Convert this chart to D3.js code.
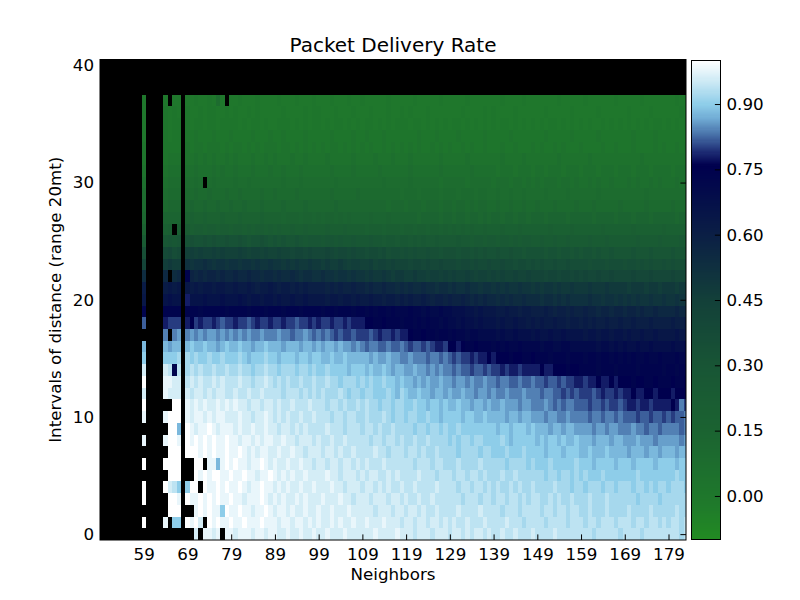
<!DOCTYPE html>
<html>
<head>
<meta charset="utf-8">
<script src="https://cdn.jsdelivr.net/npm/d3@7"></script>
<style>
body { margin: 0; background: #fff; }
text { font-family: "DejaVu Sans", sans-serif; }
</style>
</head>
<body>
<svg id="chart" width="800" height="600"></svg>
<script>
// one char per cell: "0" = -0.10, each step +0.02, "t" = 1.00
// "." = no value (drawn black)
var levelCodes = "0123456789ABCDEFGHIJKLMNOPQRSTUVWXYZabcdefghijklmnopqrst";

var firstNeighbor = 49, lastNeighbor = 183;
var maxInterval = 40;

var xTicks = [59, 69, 79, 89, 99, 109, 119, 129, 139, 149, 159, 169, 179];
var yTicks = [0, 10, 20, 30, 40];
var cbTicks = [0.00, 0.15, 0.30, 0.45, 0.60, 0.75, 0.90];

var cmapStops  = [-0.10, -0.02, 0.15, 0.30, 0.45, 0.60, 0.70, 0.76, 0.79, 0.83, 0.87, 0.90, 0.95, 1.00];
var cmapColors = ["#228b22", "#1f7a2b", "#1b6331", "#185535", "#134039", "#0b1f45", "#030b4b",
                  "#00004e", "#1c2a72", "#4770a8", "#72aed6", "#8ecde9", "#c9e8f4", "#ffffff"];

// rows from interval 40 (top) down to 0, columns neighbors 49..183 in groups of ten
var pdrRows = [
  ".......... .......... .......... .......... .......... .......... .......... .......... .......... .......... .......... .......... .......... .....",
  ".......... .......... .......... .......... .......... .......... .......... .......... .......... .......... .......... .......... .......... .....",
  ".......... .......... .......... .......... .......... .......... .......... .......... .......... .......... .......... .......... .......... .....",
  ".......... 5....5.55. 556556595. 5565556555 5655565556 5556555655 6555556555 5565555565 5555655555 5565555655 5555565555 5655555565 5555655555 55655",
  ".......... 5....6565. 6556566556 5655656555 5565555656 6555655565 5565556556 5655565555 5556555565 6555565555 5565555565 5555655555 5655556555 55565",
  ".......... 5....6566. 6566566566 6656566565 5666565656 6565665656 5665656566 6566565656 5665656565 6566565656 5656656565 6565565656 5656565665 65656",
  ".......... 5....6566. 6676667666 7666676667 6676666766 6667666676 6766676666 6667666766 6676666676 6666766666 6676666676 6666766666 6676666766 66666",
  ".......... 6....6666. 7677677767 6776767677 7677676767 6767767676 7676676767 6767667676 7667676676 6676676667 6766767666 7666676676 6676666767 66767",
  ".......... 6....6777. 7787878778 7877787787 8777877877 7787777787 7778777877 7877777787 7777877777 7787777877 7777787777 7787777777 7777877777 77777",
  ".......... 7....7888. 8898889898 8988898889 8898889888 8889888898 8888988888 8988888898 8888898888 8788878887 8878887888 7888788878 8878887888 87888",
  ".......... 8....8999. 99A9.9A999 9A99A99999 99A999A999 9999A99999 99999A9999 9A99999989 9999899999 8999899898 9899989989 8898988988 8989889898 88988",
  ".......... 9....9AAA. AABAABAAAB AABAAAABAA BAAAABAAAA AAABAAAAAB AAAAAAAAA9 AAA9AAAA9A AA9AAA9AA9 9A99A99A99 99A9999A99 9999A99999 99999A9999 99999",
  ".......... A....ABBB. BCBBCBBCBB CBBCBBBCBB BBCBBBBCBB BBBBCBBBBB BBBBBBABBB ABBBABBBAB BABBABABBA ABAABAABAA BAAABAAAAB AAABAAAAAB AAAAABAAAA ABAAA",
  ".......... B....CCCC. DEDDEDDDED DDEDDDDEDD DDCDDDCDDC DCDDCDCDCC CCDCCCDCCC CCCBCCCCBC CBCCBCCBCB CCBCCBCCBC CCBCCCCBCC CCCBCCCCBC CCBCCCBCCC CCBCC",
  ".......... D....EF.F. GFGGFGGFGG FGGFGFGGFG FGFFGFFGFF FFGFFFGFFF FEFFFEFFFE FFEFFEFFEF EFEFEFEEFE EEFEEEFEEE EEEFEEEEFE EEEEEFEEEE EEFEEEEEEF EEEEE",
  ".......... H....JKJK. LMLLMLMLLM LLMLKLLMLK LKLKKLKJKK KJKKJKJJKJ JJKJJIJJIJ JIJIJIIJII IIJIIHIIHI IHIIHIHIIH HIHHIHHIHH HHIHHHIHHH HHHIHHHHIH HHHIH",
  ".......... M....OPNO. RSRSRRSRSR RRSRQRRQRQ QRQQPQQPQP PPQPOPPOPO ONOONOMNNM NMNMMNMMLM MMLMMLMLML LMLLMLLKLL LLKLLKLLKL KLLKLKKLKK KKLKKKLKKK KLKKK",
  ".......... Q....STSS. VUVVWVUVVU VVUVVUVUUV UUTUTUTTUT TSTSSTSRSS RRSQRRQRQQ QPQQPQPPQP PPOPPOPOOP OOPOONOONO NONNONNONN NNMNNNMNNN MNNMNMNMMN MNMMN",
  ".......... W....X.WX. gYXYXYYXYX XYXXYXXWXX WXWWXWVWWV VWVVUVVUVU UTUTTUTSTT SSTSSRSSRS RSRRSRQRRQ RQRQQRQQRQ QQPQQPQQPQ PQPPQPPQPP PPQPPPQPPP PQPPP",
  ".......... a....abab. bababbabba abaabaZaab aZaaZaZaZZ ZZYZYZYYZY YXYXXYXXWX WXWWXWWVWW VWVVWVVUVV UVUVUUVUUT UTUUTUTTUT TTUTTTUTTT TSTTTSTTST TTSTT",
  ".......... b....cdcc. icccdcccdc ccdcbccbcc bcbbcbbcbb bbabbabbab aabaaZaaZa ZaZZaZYZZY ZYYZYXYXYX XWXWXWWXWW WVWWVWVWVV VVWVVUVVUV UVUVUUVUUV UUVUU",
  ".......... g....gggg. gggfgggggf ggggfgggfg ggfgggfggg gfggfgggfg gfgfggfgff fgffefeefe edddccbcbb baabaaZaaZ ZZaZYZZYZY YZYYXYYXYY XYYXYXXYXX XXYXX",
  ".......... k....ijjj. ihjijjijkj jijjkjijji jjijjkjjij ijjijjijii ihhgghgggf ggfgfgffef eededdcdcc cbcbbcbbab abaabaaZaa ZaZaZZaZZa ZZaZZZaZZZ ZaZZa",
  ".......... .....l.lm. lmlmlmmlml mlmlmllmll lmllkllmlk lklkjkjjkj jjkjijjiji ihgghggfgg fgffeffeee ededdedddc dccdccdccc cbccbccbcc bcbbcbbcbb bbcbb",
  ".......... n....nmnn. nonnonnmno nnonnmnnon nnmnnnmnnm nmnnmnmmlm lkllkklkkl kjkkjkjiij hhihgghggg fgfgffgfff feffeeffee eeeedeeded eddeddeddd dedde",
  ".......... o....ooop. popoopoopo ooponooopo onooonoono onnonnonnn nnmnmmnmml lmlllkllkl kjkjjijiih ihhhghhggh gggfgggfgg gfggfggfgf gfgffgffgf ffgff",
  ".......... r....rqgq. pqpqppqppq ppqppoppqp popppoppop oopoooonoo ononnonmnn mmnmmlmlml lklkkjkkjk jjijiijiii ihiihhhghh ggggfgggfg gggfgggggf ggfgg",
  ".......... t....ssrr. qrqrqqrqrq qqrqqpqqrq pqpqppqppq ppqppopppo popoopoono nnmnmnmmnm mlmmlmllml lkllkklkkl kkjkkjkjji ijiihiihih hhghhgghgg ghggh",
  ".......... r....srrr. rqrrqrqrrq qrqqrqqrqq qqpqqqpqpq pqpppqpopp oppoooponp onnonnmnnm nmmnmmlmml mllmlllmll lkllkkjkjk jjjkjijjij iihiihhihh hihhh",
  ".......... t......tt. srsrsrrsrs rsrrqrrqrr qrqqrqqqrq qqpqqpqppq pqppoppopp oopoonoono nnonnmnnmn mmnmmmlmml llmlklkllk kkjkkjkjjk jiijiijiii ihilj",
  ".......... s....sttt. srssrsrssr rrsrrqrrsr qrqrqqrqqr qqqpqqpqqp pqpppqpopp oppoopoono ooonoonnon nnnmnnmnnm mmlmmllmll llkllkllkl kkkjkkjkkj kjkkl",
  ".......... ......ttn. tsrsstsrss srsrrsrrsr rqrrqrqrqq qqrqqqpqqq pqqpqppqpp ppoppoppop oopooooooo onoonooono nnnmnnmnnm mmmlmmlmml llmllkllkl lllkl",
  ".......... s....stts. tstststsst ssrssrsrss rrsrrqrrrq rqqrqqrqqq qqpqqpqqpq ppqppqpppp opoppoppoo ooponooooo nonoononno nnnmnnnmnn mmmnmmmlmm mmmlm",
  ".......... ......ttt. tttststsst sstsrsrssr rsrrsrrqrr rqrrqrqqrq qqqrqqpqqq pqqpqppqpp ppoppppopp ooopooopoo oonooonooo nnonnnonnn nmnnnmnnmn nnmnn",
  ".......... t....tttt. ..tt.ssnst stssrsstsr srrsrrsrrq rrqrrqrrqr qrqqqrqqqq qqpqqqpqqp ppqppppqpp pppoppppop ooopooooop ooonoooono oonoooonoo oonoo",
  ".......... ......ttt. ..tststtss tsstssrsst srsrsrrsrr rrsrrqrrrq rqrrqqrqrq qqqrqqqpqq qpqqpqqpqp ppqppqpppp ppoppoppop opooopoooo ooopoooooo oopoo",
  ".......... t....trqo. ott.tsstst sstsrsstss rsrsrrsrrs rrrsrrqrrr qrrqrqrqqr qqrqqqqrqq qqpqqpqqpq pqppqpqppq ppppqpppop popppoppop ppoppopopp opppo",
  ".......... t.....tts. tsstststss tssrssstsr srsrrsrsrr rsrrrsrrqr rrqrrrqrrq rqqrqqrqqq qqqpqqqpqq pqqpqqpqpq qppqpqppqp ppqpppqppp pppoppppop ppppp",
  ".......... ......ttt. ..ststssot sstssrssts rssrsrrsrr srrsrrrsrr rrrqrrrqrr qrrqrqqrqq qqrqqqqrqq qqpqqqpqqq qpqqpqqpqq ppqpppqppp pqppppqppp ppqpp",
  ".......... t....s.oo. tstr.tstss tsstssstss srssrssrsr srrsrsrrsr rsrrrsrrrq rrqrrqrrqr qrqqrqqqrq qqqrqqqpqq qqpqqqqpqq qpqqpqqqpq qqpqqpqqpq pqqpq",
  ".......... .......... ..r.ssrs.s srsssrssrs srrsrrsrrs rrsrrrsrrr rrrsrrrrsr rrqrrrqrrr qrrqrqrrqr qqrqqrqqqr qqqqrqqqqq qqqpqqqqqp qqqqpqqqqq qqqpq"
];

var cells = [];
pdrRows.forEach(function(s, i) {
  var chars = s.replace(/ /g, ""), d = maxInterval - i;
  for (var j = 0; j < chars.length; j++) {
    var c = chars[j];
    cells.push({ n: firstNeighbor + j, d: d, v: c === "." ? null : -0.1 + levelCodes.indexOf(c) * 0.02 });
  }
});

var svg = d3.select("#chart"),
    plotL = 100, plotR = 686, plotT = 59.5, plotB = 540,
    fs = 16.7;

var x = d3.scaleLinear().domain([firstNeighbor, lastNeighbor]).range([plotL, plotR]);
var y = d3.scaleLinear().domain([-0.5, maxInterval + 0.5]).range([plotB, plotT]);
var color = d3.scaleLinear().domain(cmapStops).range(cmapColors).clamp(true);

svg.append("clipPath").attr("id", "plotclip")
  .append("rect")
    .attr("x", plotL).attr("y", plotT)
    .attr("width", plotR - plotL).attr("height", plotB - plotT);

// heatmap cells
svg.append("g")
    .attr("clip-path", "url(#plotclip)")
    .attr("shape-rendering", "crispEdges")
  .selectAll("rect")
  .data(cells)
  .enter().append("rect")
    .attr("x", function(c) { return x(c.n - 0.5); })
    .attr("y", function(c) { return y(c.d + 0.5); })
    .attr("width", function(c) { return x(c.n + 0.5) - x(c.n - 0.5) + 0.3; })
    .attr("height", function(c) { return y(c.d - 0.5) - y(c.d + 0.5) + 0.3; })
    .attr("fill", function(c) { return c.v === null ? "#000" : color(c.v); });

// axes, ticks pointing inward like the classic matplotlib look
function styleAxis(g) {
  g.select(".domain").remove();
  g.selectAll("line").attr("stroke", "#000");
  g.selectAll("text").attr("font-size", fs).attr("font-family", "DejaVu Sans").attr("fill", "#000");
}

svg.append("g")
    .attr("transform", "translate(0," + plotB + ")")
    .call(d3.axisBottom(x).tickValues(xTicks).tickSize(-5.6).tickPadding(8))
    .call(styleAxis);

svg.append("g")
    .attr("transform", "translate(0," + plotT + ")")
    .call(d3.axisTop(x).tickValues(xTicks).tickSize(-5.6).tickFormat(""))
    .call(styleAxis);

svg.append("g")
    .attr("transform", "translate(" + plotL + ",0)")
    .call(d3.axisLeft(y).tickValues(yTicks).tickSize(-5.6).tickPadding(6))
    .call(styleAxis);

svg.append("g")
    .attr("transform", "translate(" + plotR + ",0)")
    .call(d3.axisRight(y).tickValues(yTicks).tickSize(-5.6).tickFormat(""))
    .call(styleAxis);

svg.append("rect")
    .attr("x", plotL).attr("y", plotT)
    .attr("width", plotR - plotL).attr("height", plotB - plotT)
    .attr("fill", "none").attr("stroke", "#000").attr("stroke-width", 1);

// colorbar
var cbLeft = 691.5, cbRight = 720.5;
var cb = d3.scaleLinear().domain([-0.1, 1.0]).range([539.5, 60.5]);
var cbSteps = d3.range(-0.1, 1.0, 0.0025);

svg.append("g")
    .attr("shape-rendering", "crispEdges")
  .selectAll("rect")
  .data(cbSteps)
  .enter().append("rect")
    .attr("x", cbLeft)
    .attr("y", function(v) { return cb(v + 0.0025); })
    .attr("width", cbRight - cbLeft)
    .attr("height", function(v) { return cb(v) - cb(v + 0.0025) + 0.5; })
    .attr("fill", function(v) { return color(v + 0.00125); });

svg.append("g")
    .attr("transform", "translate(" + cbRight + ",0)")
    .call(d3.axisRight(cb).tickValues(cbTicks).tickFormat(d3.format(".2f")).tickSize(-5.6).tickPadding(6))
    .call(styleAxis);

svg.append("rect")
    .attr("x", cbLeft).attr("y", cb(1.0))
    .attr("width", cbRight - cbLeft).attr("height", cb(-0.1) - cb(1.0))
    .attr("fill", "none").attr("stroke", "#000").attr("stroke-width", 1);

// labels
svg.append("text")
    .attr("x", (plotL + plotR) / 2).attr("y", 52)
    .attr("text-anchor", "middle")
    .attr("font-size", 20)
    .text("Packet Delivery Rate");

svg.append("text")
    .attr("x", (plotL + plotR) / 2).attr("y", 580)
    .attr("text-anchor", "middle")
    .attr("font-size", fs)
    .text("Neighbors");

svg.append("text")
    .attr("transform", "translate(61," + (plotT + plotB) / 2 + ")rotate(-90)")
    .attr("text-anchor", "middle")
    .attr("font-size", fs)
    .text("Intervals of distance (range 20mt)");
</script>
</body>
</html>
